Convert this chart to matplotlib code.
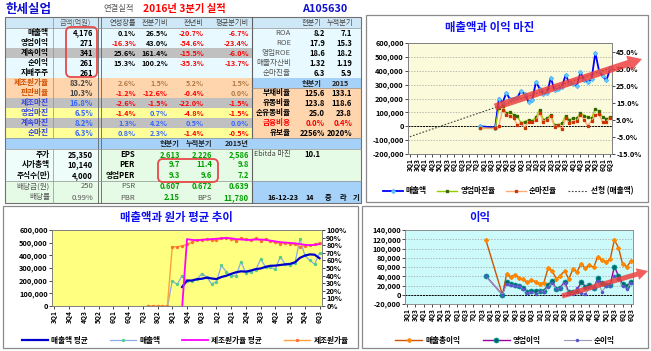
import numpy as np
import pandas as pd
import matplotlib
matplotlib.use('Agg')
import matplotlib.pyplot as plt
from matplotlib.patches import Rectangle, FancyBboxPatch, FancyArrow
from matplotlib.ticker import FuncFormatter

plt.rcParams['font.family'] = ['Noto Sans CJK KR', 'DejaVu Sans']
plt.rcParams['font.weight'] = 'bold'
plt.rcParams['axes.unicode_minus'] = False

# ------------------------------------------------------------------ data
company = '한세실업'
report_kind = '연결실적'
period_title = '2016년 3분기 실적'
stock_code = 'A105630'

row_labels = ['매출액', '영업이익', '계속이익', '순이익', '지배주주', '제조원가율', '판관비율',
              '제조마진', '영업마진', '계속마진', '순마진']
amount_header = '금액(억원)'
row_amounts = ['4,176', '271', '341', '261', '261', '83.2%', '10.3%', '16.8%', '6.5%', '8.2%', '6.3%']
growth_headers = ['연성장률', '전분기비', '전년비', '평균분기비']
growth_table = [
    ['0.1%', '26.5%', '-20.7%', '-6.7%'],
    ['-16.3%', '43.0%', '-54.6%', '-23.4%'],
    ['25.6%', '161.4%', '-15.5%', '-6.0%'],
    ['15.3%', '100.2%', '-35.3%', '-13.7%'],
    ['', '', '', ''],
    ['2.6%', '1.5%', '5.2%', '1.5%'],
    ['-1.2%', '-12.6%', '-0.4%', '0.0%'],
    ['-2.6%', '-1.5%', '-22.0%', '-1.5%'],
    ['-1.4%', '0.7%', '-4.8%', '-1.5%'],
    ['1.3%', '4.2%', '0.5%', '0.0%'],
    ['0.8%', '2.3%', '-1.4%', '-0.5%'],
]
ratio_headers = ['현분기', '누적분기']
ratio_labels = ['ROA', 'ROE', '영업ROE', '매출자산비', '순마진율']
ratio_cur = ['8.2', '17.9', '18.6', '1.32', '6.3']
ratio_cum = ['7.1', '15.3', '18.2', '1.19', '5.9']
fin_headers = ['현분기', '2015']
fin_labels = ['부채비율', '유동비율', '순유동비율', '금융비용', '유보율']
fin_cur = ['125.6', '123.8', '25.0', '0.0%', '2256%']
fin_2015 = ['133.1', '118.6', '23.8', '0.4%', '2020%']
market_labels = ['주가', '시가총액', '주식수(만)', '배당금(원)', '배당률']
market_values = ['25,350', '10,140', '4,000', '250', '0.99%']
val_headers = ['현분기', '누적분기', '2015년']
val_labels = ['EPS', 'PER', '영업PER', 'PSR', 'PBR']
val_cur = ['2,613', '9.7', '9.3', '0.607', '2.15']
val_cum = ['2,226', '11.4', '9.6', '0.672', 'BPS']
val_2015 = ['2,586', '9.8', '7.2', '0.639', '11,780']
ebitda_label = 'Ebitda 마진'
ebitda_value = '10.1'
footer_date = '16-12-23'
footer_items = ['14', '증', '라', '기']

quarters = [f'{y % 10}Q{q}' for y in range(2003, 2017) for q in range(1, 5)][:55]

# values start at quarter index 19 (7Q4); None = blank quarter
series_start = 19
sales = [0, None, None, None, -10000,
         200000, 170000, 240000, 195000, 200000, 210000, 255000, 230000, 175000, 190000,
         320000, 270000, 235000, 240000, 350000, 260000, 270000, 285000, 370000, 310000,
         305000, 290000, 390000, 330000, 320000, 340000, 530000, 400000, 360000, 330000,
         417600]
op_margin = [0, None, None, None, 0,
             12, 13, 9, 9.5, 8, 7, 3, 4, 5, 4.5,
             6.5, 11, 5, 6, 8, 2, 2, 3, 7.5, 5,
             6, 6, 9, 7.5, 6.5, 6, 11.5, 10, 6.5, 5.7,
             6.5]
net_margin = [0, None, None, None, 0,
              1.5, 11, 8, 7.5, 6, 2, 3, 0.5, 4, 3.5,
              5, 9, 4, 5, 7, 1, 2, -0.5, 6, 3,
              4, 4.5, 8, 5, 1.5, 4.5, 8, 8.5, 3.5, 4,
              6.3]
cost_ratio = [0, 0, 0, 0, 0,
              78, 78, 79, 81, 84, 87, 87.5, 87.6, 86.6, 86.3,
              89, 90, 88, 86, 89, 88, 87, 89, 86, 88,
              85, 84, 82, 83, 82, 81, 78, 79, 80, 81,
              83.2]
cost_ratio_avg_start = 26
cost_ratio_avg = [-3, 88, 87, 86.5, 87, 87.5, 88, 88.5, 89, 89.5,
                  89, 88, 87.5, 87, 87, 87.5, 87.5, 87, 86, 85,
                  84, 83.5, 83, 82.5, 81.5, 80.5, 80, 80.5, 81.5]
gross_profit = [118600, None, None, None, 0,
                44000, 39000, 43000, 37000, 33000, 27000, 32000, 28500, 23500, 26000,
                57000, 52000, 34000, 41500, 52000, 34000, 55000, 50000, 67000, 57000,
                64500, 59000, 82500, 75000, 70000, 77000, 118600, 102000, 66000, 61000,
                72000]
op_profit = [40700, None, None, None, 0,
             27000, 23000, 21000, 19000, 15500, 7000, 9000, 9000, 8500, 9000,
             21000, 30000, 12000, 15500, 28500, 5500, 5500, 9000, 28500, 17700,
             21000, 14000, 35700, 25000, 21000, 21000, 61000, 40700, 23000, 19000,
             27100]
net_profit = [40000, None, None, None, 0,
              24000, 22000, 18000, 18000, 13000, 3000, 7000, 1000, 8000, 7000,
              17000, 26000, 12000, 14000, 25000, 1000, 2000, 15000, 3000, 1000,
              16000, 14000, 30000, 7000, 18000, 18000, 40000, 35000, 18000, 13000,
              26100]

# ------------------------------------------------------------------ helpers
N = len(quarters)
idx = np.arange(N)


def full(vals, start):
    arr = np.full(N, np.nan)
    arr[start:start + len(vals)] = np.array(vals, dtype=float)
    return arr


def valid(arr):
    m = ~np.isnan(arr)
    return idx[m], arr[m]


S = full(sales, series_start)
OPM = full(op_margin, series_start)
NPM = full(net_margin, series_start)
CR = full(cost_ratio, series_start)
CRA = full(cost_ratio_avg, cost_ratio_avg_start)
GP = full(gross_profit, series_start)
OP = full(op_profit, series_start)
NP = full(net_profit, series_start)
S_avg = pd.Series(S).rolling(4).mean().to_numpy()

W, H = 651, 351
fig = plt.figure(figsize=(W / 100, H / 100), dpi=100, facecolor='white')
T = fig.add_axes([0, 0, 1, 1], zorder=0)
T.set_xlim(0, W)
T.set_ylim(H, 0)
T.axis('off')

FS = 5.5


def box(x0, y0, x1, y1, fc, ec='none', lw=0.6, z=1):
    T.add_patch(Rectangle((x0, y0), x1 - x0, y1 - y0, facecolor=fc, edgecolor=ec, lw=lw, zorder=z))


def txt(x, y, s, ha='right', color='black', size=FS, weight='bold', **kw):
    T.text(x, y, s, ha=ha, va='center', color=color, fontsize=size, fontweight=weight, zorder=5, **kw)


def vline(x, y0, y1, c='#808080', lw=0.6):
    T.plot([x, x], [y0, y1], color=c, lw=lw, zorder=4)


def hline(y, x0, x1, c='#808080', lw=0.6):
    T.plot([x0, x1], [y, y], color=c, lw=lw, zorder=4)


# ------------------------------------------------------------------ table
txt(5, 9, company, ha='left', color='#1010D0', size=9)
txt(119, 9, report_kind, ha='center', color='#555555', size=6, weight='normal')
txt(143, 9, period_title, ha='left', color='#FF0000', size=7.4)
txt(325, 9, stock_code, ha='center', color='#1010D0', size=7.8)

L, R, MID, RR = 5, 98, 252, 361
hdr = (17, 28)
row_top = [28 + 10 * i for i in range(12)]
light = '#E8FAFF'
gray = '#C0C0C0'
peach = '#FFD5AE'
yellow = '#FFFF99'
blue = '#A6D2FA'
hblue = '#CFE8F7'
green = '#E6FBE6'
left_bg = [light, light, gray, light, light, peach, peach, gray, yellow, gray, yellow]
label_col = ['black'] * 5 + ['#D05000'] * 2 + ['#3344DD'] * 4
amount_col = ['black'] * 5 + ['#444444'] * 2 + ['#3366FF'] * 4
pos_col = ['black'] * 5 + ['#B07A45'] * 2 + ['#3366FF'] * 4

box(L, hdr[0], MID, hdr[1], hblue)
box(MID, hdr[0], RR, hdr[1], hblue)
txt(75, 22.5, amount_header, ha='center', color='#555555', size=5.2, weight='normal')
col_right = [136, 168, 204, 249]
for h, xr in zip(growth_headers, col_right):
    txt(xr, 22.5, h, color='#444444', size=5.2, weight='normal')
for h, xc in zip(ratio_headers, [312, 340]):
    txt(xc, 22.5, h, ha='center', color='#444444', size=5.2, weight='normal')

for i, lab in enumerate(row_labels):
    y0 = row_top[i]
    yc = y0 + 5
    box(L, y0, MID, y0 + 10, left_bg[i])
    txt(49, yc, lab, color=label_col[i])
    txt(93, yc, row_amounts[i], color=amount_col[i])
    for v, xr in zip(growth_table[i], col_right):
        if v:
            txt(xr, yc, v, color='#FF0000' if v.startswith('-') else pos_col[i], size=5.2)

for i in range(5):
    y0 = row_top[i]
    box(MID, y0, RR, y0 + 10, light)
    txt(291, y0 + 5, ratio_labels[i], color='#555555', weight='normal')
    txt(325, y0 + 5, ratio_cur[i])
    txt(352, y0 + 5, ratio_cum[i])
box(MID, row_top[5], RR, row_top[5] + 10, blue)
for h, xc in zip(fin_headers, [312, 340]):
    txt(xc, row_top[5] + 5, h, ha='center', color='#222222', size=5.2)
for i in range(5):
    y0 = 88 + 10 * i
    box(MID, y0, RR, y0 + 10, peach)
    c = '#FF0000' if fin_labels[i] == '금융비용' else 'black'
    txt(291, y0 + 5, fin_labels[i], color=c)
    txt(325, y0 + 5, fin_cur[i], color=c)
    txt(352, y0 + 5, fin_2015[i], color=c)

# blue band row
box(L, 138, RR, 149, blue)
for h, xr in zip(val_headers, [180, 212, 249]):
    txt(xr, 143.5, h, color='#222222', size=5.2)

mrow_y = [(149, 159.5), (159.5, 170), (170, 180.5), (180.5, 192), (192, 203)]
for i, (y0, y1) in enumerate(mrow_y):
    yc = (y0 + y1) / 2
    box(L, y0, R, y1, '#EEFCFA' if i < 3 else green)
    box(R, y0, MID, y1, green)
    box(MID, y0, RR, y1, green if i < 3 else blue)
    mc = 'black' if i < 3 else '#555555'
    txt(50, yc, market_labels[i], color=mc, weight='bold' if i < 3 else 'normal')
    txt(93, yc, market_values[i], color=mc, weight='bold' if i < 3 else 'normal')
    txt(135, yc, val_labels[i], color=mc, weight='bold' if i < 3 else 'normal')
    txt(180, yc, val_cur[i], color='#00A000')
    txt(212, yc, val_cum[i], color='#555555' if val_cum[i] == 'BPS' else '#00A000',
        weight='normal' if val_cum[i] == 'BPS' else 'bold')
    txt(249, yc, val_2015[i], color='#00A000')
txt(254, 154.3, ebitda_label, ha='left', color='#444444', weight='normal', size=5.2)
txt(320, 154.3, ebitda_value)
txt(267, 197.5, footer_date, ha='left', size=5.2)
for s, xc in zip(footer_items, [310, 328, 343, 356]):
    txt(xc, 197.5, s, ha='center', size=5.2)

# table lines
box(L, 17, RR, 203, 'none', ec='#707070', lw=0.8, z=4)
vline(53, 17, 138, '#909090', 0.5)
vline(53, 149, 203, '#909090', 0.5)
vline(98, 17, 203, '#606060', 0.6)
vline(100.5, 17, 203, '#606060', 0.6)
vline(MID, 17, 138, '#606060', 0.8)
vline(MID, 149, 203, '#606060', 0.8)
for y in [28, 138, 149, 181]:
    hline(y, L, RR, '#909090', 0.5)
hline(88, MID, RR, '#909090', 0.5)

T.add_patch(FancyBboxPatch((66, 27), 31, 50, boxstyle='round,pad=0,rounding_size=5',
                           fc='none', ec='#E84848', lw=1.3, zorder=6))
T.add_patch(FancyBboxPatch((158, 159), 60, 23, boxstyle='round,pad=0,rounding_size=5',
                           fc='none', ec='#E84848', lw=1.3, zorder=6))

# chart frames
box(366, 15, 648, 202, 'white', ec='#8A8A8A', lw=0.9)
box(3, 206, 358, 348, 'white', ec='#8A8A8A', lw=0.9)
box(362, 206, 648, 348, 'white', ec='#8A8A8A', lw=0.9)
txt(490, 28, '매출액과 이익 마진', ha='center', color='#1010F0', size=8.2)
txt(176, 217, '매출액과 원가 평균 추이', ha='center', color='#1010F0', size=8.2)
txt(480, 217, '이익', ha='center', color='#1010F0', size=8.2)


# ------------------------------------------------------------------ charts
def px_axes(x0, y0, x1, y1):
    return fig.add_axes([x0 / W, 1 - y1 / H, (x1 - x0) / W, (y1 - y0) / H], zorder=2)


def style(ax, fc=None):
    if fc:
        ax.set_facecolor(fc)
    for s in ax.spines.values():
        s.set_color('#808080')
        s.set_linewidth(0.6)
    ax.tick_params(axis='both', length=2, width=0.5, labelsize=5.3, pad=1, colors='black')
    ax.set_xlim(-0.5, N - 0.5)


def xlabels(ax, step):
    ax.set_xticks(idx[::step])
    ax.set_xticklabels([quarters[i] for i in idx[::step]], rotation=90, fontsize=4.7)


thousands = FuncFormatter(lambda v, p: f'{v:,.0f}')

# --- top right
ax1 = px_axes(408, 43, 612, 154)
style(ax1, '#FBFBDC')
ax1.set_ylim(-200000, 600000)
ax1.set_yticks(np.arange(-200000, 600001, 100000))
ax1.yaxis.set_major_formatter(thousands)
ax1.yaxis.grid(True, linestyle=(0, (2, 2)), color='#A0A0A0', lw=0.5)
ax1.set_axisbelow(True)
ax1.axhline(0, color='black', lw=0.7, ls=(0, (2, 1)))
xlabels(ax1, 2)
xs, ys = valid(S)
coef = np.polyfit(xs, ys, 1)
l_trend, = ax1.plot(idx, np.polyval(coef, idx), color='#444444', lw=0.8, ls=(0, (1.5, 1.5)))
l_sales, = ax1.plot(xs, ys, color='#0000FF', lw=1.3, marker='D', ms=2.4, mfc='#66CCFF', mec='#33AAFF', mew=0.4)
ax1r = ax1.twinx()
ax1r.set_zorder(3)
style(ax1r)
ax1r.set_ylim(-15, 50)
ax1r.set_yticks([-15, -5, 5, 15, 25, 35, 45])
ax1r.yaxis.set_major_formatter(FuncFormatter(lambda v, p: f'{v:.1f}%'))
xs, ys = valid(OPM)
l_opm, = ax1r.plot(xs, ys, color='#99CC00', lw=1.0, marker='s', ms=1.4, mfc='#336600', mec='#336600')
xs, ys = valid(NPM)
l_npm, = ax1r.plot(xs, ys, color='#FFAA77', lw=1.0, marker='s', ms=1.4, mfc='#CC3300', mec='#CC3300')
for lab in ax1.get_yticklabels() + ax1r.get_yticklabels() + ax1.get_xticklabels():
    lab.set_fontweight('bold')
ax1r.legend([l_sales, l_opm, l_npm, l_trend], ['매출액', '영업마진율', '순마진율', '선형 (매출액)'],
            loc='center', bbox_to_anchor=(508 / W, 1 - 191 / H), bbox_transform=fig.transFigure,
            ncol=4, frameon=False, fontsize=5.5, handlelength=2.6, columnspacing=1.4, handletextpad=0.4)

# --- bottom left
ax2 = px_axes(52, 230, 322, 306)
style(ax2, '#FFFF80')
ax2.set_ylim(0, 600000)
ax2.set_yticks(np.arange(0, 600001, 100000))
ax2.yaxis.set_major_formatter(thousands)
xlabels(ax2, 3)
xs, ys = valid(S)
l2a, = ax2.plot(xs, ys, color='#8AAAE8', lw=0.9, marker='o', ms=1.4, mfc='#55CC88', mec='#55CC88')
xs, ys = valid(S_avg)
l2b, = ax2.plot(xs, ys, color='#0000CC', lw=1.6)
ax2r = ax2.twinx()
ax2r.set_zorder(3)
style(ax2r)
ax2r.set_ylim(0, 100)
ax2r.set_yticks(np.arange(0, 101, 10))
ax2r.yaxis.set_major_formatter(FuncFormatter(lambda v, p: f'{v:.0f}%'))
xs, ys = valid(CR)
l2c, = ax2r.plot(xs, ys, color='#FFA040', lw=1.0, marker='o', ms=1.4, mfc='#FF7030', mec='#FF7030')
xs, ys = valid(CRA)
l2d, = ax2r.plot(xs, ys, color='#FF00FF', lw=1.3)
for lab in ax2.get_yticklabels() + ax2r.get_yticklabels() + ax2.get_xticklabels():
    lab.set_fontweight('bold')
ax2r.legend([l2b, l2a, l2d, l2c], ['매출액 평균', '매출액', '제조원가율 평균', '제조원가율'],
            loc='center', bbox_to_anchor=(185 / W, 1 - 340 / H), bbox_transform=fig.transFigure,
            ncol=4, frameon=False, fontsize=5.5, handlelength=3.5, columnspacing=2.8, handletextpad=0.4)

# --- bottom right
ax3 = px_axes(405, 230, 633, 304)
style(ax3, '#CCFAFA')
ax3.set_ylim(-20000, 140000)
ax3.set_yticks(np.arange(-20000, 140001, 20000))
ax3.yaxis.set_major_formatter(thousands)
ax3.yaxis.grid(True, linestyle=(0, (2, 2)), color='#A0A0A0', lw=0.5)
ax3.set_axisbelow(True)
ax3.axhline(0, color='black', lw=0.7, ls=(0, (2, 1)))
xlabels(ax3, 2)
xs, ys = valid(GP)
l3a, = ax3.plot(xs, ys, color='#CC5500', lw=1.0, marker='D', ms=2.0, mfc='#FF8800', mec='#FF8800')
xs, ys = valid(OP)
l3b, = ax3.plot(xs, ys, color='#990099', lw=1.0, marker='o', ms=3.6, mfc='#006666', mec='#00A0A0', mew=0.5)
xs, ys = valid(NP)
l3c, = ax3.plot(xs, ys, color='#9999BB', lw=0.8, marker='o', ms=1.5, mfc='#5555CC', mec='#5555CC')
for lab in ax3.get_yticklabels() + ax3.get_xticklabels():
    lab.set_fontweight('bold')
ax3.legend([l3a, l3b, l3c], ['매출총이익', '영업이익', '순이익'],
           loc='center', bbox_to_anchor=(505 / W, 1 - 340 / H), bbox_transform=fig.transFigure,
           ncol=3, frameon=False, fontsize=5.5, handlelength=3.5, columnspacing=3.0, handletextpad=0.4)

# --- overlay arrows
O = fig.add_axes([0, 0, 1, 1], zorder=10)
O.set_xlim(0, W)
O.set_ylim(H, 0)
O.axis('off')
O.patch.set_alpha(0)
for (x0, y0, x1, y1, w, hw, hl) in [(495, 107, 642, 59, 7, 16, 14), (562, 296, 648, 271, 5, 12, 11)]:
    O.add_patch(FancyArrow(x0, y0, x1 - x0, y1 - y0, width=w, head_width=hw, head_length=hl,
                           length_includes_head=True, fc='#EE3B3B', ec='none', alpha=0.82))

fig.savefig('out.png', dpi=100, facecolor='white')
